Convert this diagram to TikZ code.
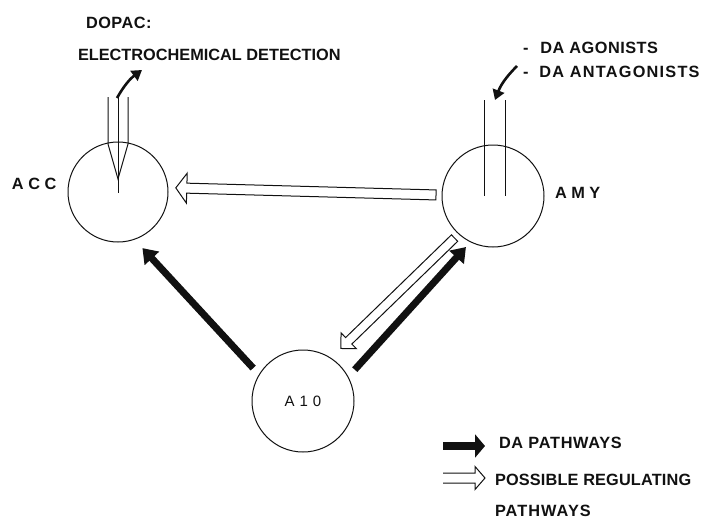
\documentclass[tikz,border=0pt]{standalone}
\usepackage{fontspec}
\setmainfont{Liberation Sans}
\usetikzlibrary{arrows.meta,calc}
\definecolor{c111111}{RGB}{17,17,17}
\def \globalscale {1.000000}
\newcommand\hollowarrow[5]{%
  \coordinate (hbase) at ($(#2)!#5!(#1)$);
  \path[hollowpath] ($(#1)!#3!90:(#2)$) -- ($(hbase)!#3!90:(#2)$)
    -- ($(hbase)!#4!90:(#2)$) -- (#2) -- ($(hbase)!#4!-90:(#2)$)
    -- ($(hbase)!#3!-90:(#2)$) -- ($(#1)!#3!-90:(#2)$) -- cycle;}
\newcommand\openhollow[5]{%
  \coordinate (hbase) at ($(#2)!#5!(#1)$);
  \path[hollowpath] ($(#1)!#3!90:(#2)$) -- ($(hbase)!#3!90:(#2)$)
    -- ($(hbase)!#4!90:(#2)$) -- (#2) -- ($(hbase)!#4!-90:(#2)$)
    -- ($(hbase)!#3!-90:(#2)$) -- ($(#1)!#3!-90:(#2)$);}

\begin{document}
\begin{tikzpicture}[y=-1pt, x=1pt, yscale=\globalscale,xscale=\globalscale, every node/.append style={scale=\globalscale}, inner sep=0pt, outer sep=0pt,
  region/.style={circle,draw=c111111,line width=1pt,minimum size=100pt},
  txt/.style={text=c111111,anchor=west,font=\fontsize{16.3}{18}\selectfont\bfseries\addfontfeature{LetterSpace=#1}},
  txt/.default=0,
  dapath/.style={draw=c111111,line width=7pt,-{Triangle[length=14pt,width=19pt]}},
  hollowpath/.style={draw=c111111,fill=white,line width=1pt,line join=miter},
  pipette/.style={draw=c111111,line width=1pt},
  bent/.style={draw=c111111,line width=2.6pt,-{Triangle[length=10pt,width=12pt]}}]
  \useasboundingbox (0,0) rectangle (712,519);

  \node[region] (acc) at (118,192) {};
  \node[region,minimum size=102pt] (amy) at (493,196) {};
  \node[region,minimum size=102pt,text=c111111,font=\fontsize{15}{17}\selectfont] (a10) at (303,401) {A\,\,1\,\,0};

  \node[txt] (textacc) at (12,184) {A C C};
  \node[txt] (textamy) at (555,193) {A M Y};
  \node[txt=3] (textdopac) at (86,23) {DOPAC:};
  \node[txt] (textdetection) at (78,55) {ELECTROCHEMICAL DETECTION};
  \node[txt=3] (textagonists) at (523,48) {-\hskip 12pt DA AGONISTS};
  \node[txt=7.5] (textantagonists) at (523,72) {-\hskip 11pt DA ANTAGONISTS};

  \path[pipette] (108,97) -- (108,144) -- (118,179) -- (128,144) -- (128,97);
  \path[pipette] (118,97) -- (118,193);
  \path[pipette] (484,100) -- (484,196);
  \path[pipette] (505,100) -- (505,196);
  \draw[bent] (117,98) to[bend left=12] (142,70);
  \draw[bent] (517,66) to[bend right=12] (495,100);

  \coordinate (htail1) at ($(amy.179)!6pt!(acc.5)$);
  \coordinate (htip1) at ($(acc.5)!8pt!(amy.179)$);
  \hollowarrow{htail1}{htip1}{5pt}{15pt}{11pt}
  \coordinate (htail2) at ($(amy.-132)!6pt!(a10.57)$);
  \coordinate (htip2) at ($(a10.57)!14pt!(amy.-132)$);
  \hollowarrow{htail2}{htip2}{4.5pt}{11pt}{11pt}

  \draw[dapath,shorten <=9pt,shorten >=12pt] (a10.149) -- (acc.-71);
  \draw[dapath,shorten <=10pt,shorten >=7pt] (a10.28) -- (amy.-116);

  \coordinate (keyda1) at (443,446);
  \coordinate (keyda2) at (485,446);
  \draw[dapath,line width=7.5pt,-{Triangle[length=10pt,width=23pt]}] (keyda1) -- (keyda2);
  \node[txt=4.3] (textkeyda) at (499,443) {DA PATHWAYS};
  \coordinate (keyreg1) at (443,478);
  \coordinate (keyreg2) at (485,478);
  \openhollow{keyreg1}{keyreg2}{5pt}{11.5pt}{10pt}
  \node[txt=1] (textkeyreg) at (495,480) {POSSIBLE REGULATING};
  \node[txt=6.5] (textkeypath) at (495,511) {PATHWAYS};

\end{tikzpicture}
\end{document}
